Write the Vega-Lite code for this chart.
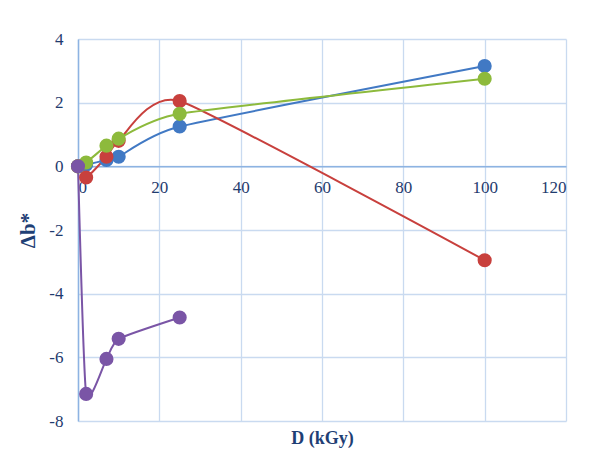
{
  "$schema": "https://vega.github.io/schema/vega-lite/v6.json",
  "width": 488,
  "height": 382,
  "autosize": "none",
  "padding": {"left": 78, "top": 39, "right": 47, "bottom": 38},
  "background": "white",
  "data": {
    "values": [
      {"series": "1", "D": 0, "db": 0},
      {"series": "1", "D": 2, "db": 0.05},
      {"series": "1", "D": 7, "db": 0.2},
      {"series": "1", "D": 10, "db": 0.3},
      {"series": "1", "D": 25, "db": 1.25},
      {"series": "1", "D": 100, "db": 3.15},
      {"series": "2", "D": 0, "db": 0},
      {"series": "2", "D": 2, "db": -0.35},
      {"series": "2", "D": 7, "db": 0.3},
      {"series": "2", "D": 10, "db": 0.8},
      {"series": "2", "D": 25, "db": 2.05},
      {"series": "2", "D": 100, "db": -2.95},
      {"series": "3", "D": 0, "db": 0},
      {"series": "3", "D": 2, "db": 0.12},
      {"series": "3", "D": 7, "db": 0.65},
      {"series": "3", "D": 10, "db": 0.87},
      {"series": "3", "D": 25, "db": 1.65},
      {"series": "3", "D": 100, "db": 2.75},
      {"series": "4", "D": 0, "db": 0},
      {"series": "4", "D": 2, "db": -7.15},
      {"series": "4", "D": 7, "db": -6.05},
      {"series": "4", "D": 10, "db": -5.42},
      {"series": "4", "D": 25, "db": -4.75}
    ]
  },
  "config": {
    "view": {"stroke": null},
    "axis": {
      "labelFont": "Liberation Serif",
      "labelFontSize": 17,
      "labelColor": "#1F3B6E",
      "titleFont": "Liberation Serif",
      "titleFontWeight": "bold",
      "titleColor": "#1F3F75",
      "gridColor": "#C9DAF0",
      "gridWidth": 1.3,
      "gridOpacity": 1,
      "domainColor": "#8DB3E2",
      "domainWidth": 1.5,
      "ticks": false
    }
  },
  "encoding": {
    "x": {
      "field": "D",
      "type": "quantitative",
      "scale": {"domain": [0, 120], "nice": false, "zero": false},
      "axis": {
        "title": "D (kGy)",
        "titleFontSize": 18,
        "labelFont": "Liberation Serif",
        "labelFontSize": 17,
        "values": [0, 20, 40, 60, 80, 100, 120],
        "offset": -254.67,
        "labelPadding": 13,
        "titleY": 272,
        "titleBaseline": "middle",
        "labelExpr": "'' + datum.value"
      }
    },
    "y": {
      "field": "db",
      "type": "quantitative",
      "scale": {"domain": [-8, 4], "nice": false, "zero": false},
      "axis": {
        "title": "Δb*",
        "titleFontSize": 21,
        "labelFont": "Liberation Serif",
        "labelFontSize": 17,
        "values": [-8, -6, -4, -2, 0, 2, 4],
        "labelPadding": 15,
        "titlePadding": 10,
        "labelExpr": "'' + datum.value"
      }
    },
    "color": {
      "field": "series",
      "type": "nominal",
      "legend": null,
      "scale": {"domain": ["1", "2", "3", "4"], "range": ["#4179C4", "#C8403D", "#8DBA3C", "#7A55A6"]}
    }
  },
  "layer": [
    {
      "mark": {"type": "line", "interpolate": "cardinal", "tension": 0.5, "strokeWidth": 2},
      "encoding": {"detail": {"field": "series"}}
    },
    {
      "mark": {"type": "point", "filled": true, "size": 200, "opacity": 1, "stroke": null},
      "encoding": {
        "color": {
          "field": "series",
          "type": "nominal",
          "legend": null,
          "scale": {"domain": ["1", "2", "3", "4"], "range": ["#3B7DD0", "#D0363A", "#8DBA3C", "#7A51A6"]}
        }
      }
    }
  ]
}
